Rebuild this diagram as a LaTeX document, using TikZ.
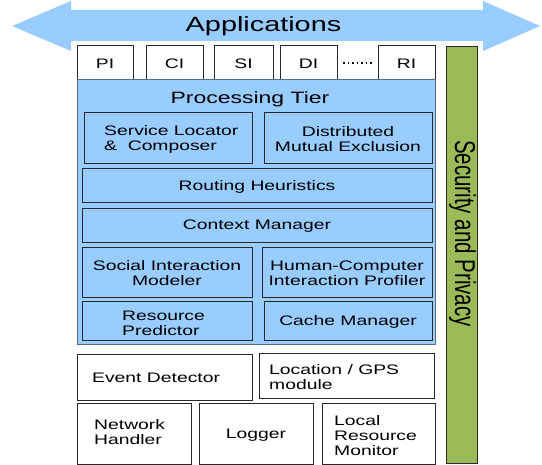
\documentclass[tikz,border=0pt]{standalone}
\usepackage{fontspec}
\setmainfont[FakeStretch=1.4]{Liberation Sans}
\newfontfamily\plainsans{Liberation Sans}
\usetikzlibrary{calc}
\definecolor{tierblue}{RGB}{153,204,255}
\definecolor{secgreen}{RGB}{155,187,89}
\definecolor{edgec}{RGB}{40,40,40}
\definecolor{tieredge}{RGB}{85,105,130}
\newcommand\mkbox[6]{\node[#1, minimum width=#4pt, minimum height=#5pt] (#2) at (#3) {};
  \node[btxt] (#2-t) at (#2.center) {#6};}
\begin{document}
\begin{tikzpicture}[x=1pt,y=-1pt,
  box/.style={draw=edgec, line width=0.8pt, inner sep=0pt, fill=white},
  bluebox/.style={box, fill=tierblue},
  tierbox/.style={draw=tieredge, line width=1pt, fill=tierblue, inner sep=0pt},
  btxt/.style={font=\fontsize{13.8}{15}\selectfont, align=center, inner sep=0pt, yshift=-1.5pt},
  ltxt/.style={font=\fontsize{13.8}{15}\selectfont, align=left, inner sep=0pt, anchor=west, yshift=-1.5pt}]
\useasboundingbox (0,0) rectangle (542,465);
% Applications arrow
\fill[tierblue] (12,26) -- (71,1) -- (71,10) -- (483,10) -- (483,1) -- (540,26)
  -- (483,51) -- (483,41) -- (71,41) -- (71,51) -- cycle;
\node[anchor=base, inner sep=0pt, font=\fontsize{20.6}{24}\selectfont] (apps) at (263.5,31.7) {Applications};
% interface boxes
\mkbox{box}{pi}{105,62}{56}{34}{PI}
\mkbox{box}{ci}{174.5,62}{57}{34}{CI}
\mkbox{box}{si}{243.5,62}{59}{34}{SI}
\mkbox{box}{di}{308.5,62}{57}{34}{DI}
\mkbox{box}{ri}{406.5,62}{57}{34}{RI}
\draw[line width=1.3pt, dash pattern=on 1.3pt off 3.2pt] ($(di.east)+(6,1)$) -- ($(ri.west)+(-3,1)$);
% processing tier
\mkbox{tierbox}{tier}{256,212.5}{358}{265}{}
\node[anchor=base, inner sep=0pt, font=\fontsize{16.4}{19}\selectfont] (ptitle) at (250,103.8) {Processing Tier};
\mkbox{bluebox}{slc}{168,137.5}{168}{51}{}
\node[ltxt] (slct) at (104,137.5) {Service Locator\\\&\ \ Composer};
\mkbox{bluebox}{dme}{348,137.5}{168}{51}{Distributed\\Mutual Exclusion}
\mkbox{bluebox}{rh}{257,185}{350}{34}{Routing Heuristics}
\mkbox{bluebox}{cm}{257,225}{350}{34}{Context Manager}
\mkbox{bluebox}{sim}{167,272}{170}{50}{Social Interaction\\Modeler}
\mkbox{bluebox}{hci}{347,272}{170}{50}{Human-Computer\\Interaction Profiler}
\mkbox{bluebox}{rp}{167,320.5}{170}{39}{}
\node[ltxt] (rpt) at (122,321.5) {Resource\\Predictor};
\mkbox{bluebox}{cam}{348,320.5}{168}{39}{Cache Manager}
% lower layers
\mkbox{box}{ed}{164.5,377}{175}{46}{}
\node[ltxt] (edt) at (92,376) {Event Detector};
\mkbox{box}{loc}{346.5,375.5}{175}{45}{}
\node[ltxt] (loct) at (269,375.5) {Location / GPS\\module};
\mkbox{box}{nh}{134,433.5}{114}{61}{}
\node[ltxt] (nht) at (94,430.5) {Network\\Handler};
\mkbox{box}{lg}{256,433.5}{114}{61}{Logger}
\mkbox{box}{lrm}{378.5,433.5}{113}{61}{}
\node[ltxt] (lrmt) at (334,434.5) {Local\\Resource\\Monitor};
% security bar
\node[draw=edgec, line width=1pt, fill=secgreen, inner sep=0pt, minimum width=31pt, minimum height=417pt] (sec) at (461.5,255.5) {};
\node[rotate=-90, inner sep=0pt] (sect) at (462.5,233.5) {\scalebox{1}[1.4]{\plainsans\fontsize{20.5}{24}\selectfont Security and Privacy}};
\end{tikzpicture}
\end{document}
